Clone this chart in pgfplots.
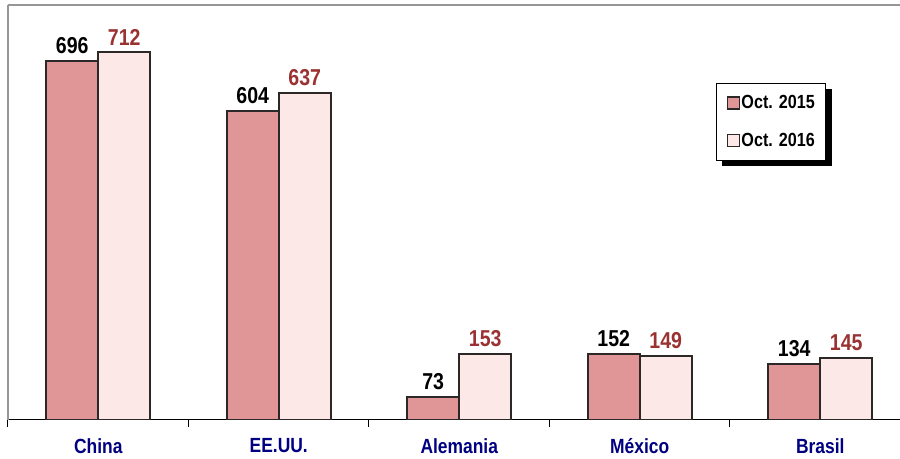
\documentclass[border=0pt]{standalone}
\usepackage{fontspec}
\setmainfont{Liberation Sans}
\newfontfamily\narrow[FakeStretch=0.85]{Liberation Sans}
\usepackage{pgfplots}
\pgfplotsset{compat=1.18}
\pgfdeclarelayer{background}
\pgfsetlayers{background,main}
\definecolor{bar15}{RGB}{224,150,150}
\definecolor{bar16}{RGB}{253,232,232}
\definecolor{barline}{RGB}{45,40,40}
\definecolor{lab16}{RGB}{155,50,50}
\definecolor{navy}{RGB}{0,0,128}
\definecolor{framegray}{RGB}{150,150,150}
\begin{document}
\begin{tikzpicture}
\begin{axis}[
  scale only axis, width=892pt, height=415pt,
  xmin=-0.5, xmax=4.442, ymin=30, ymax=800,
  ybar=0pt, bar width=52pt,
  axis x line*=bottom, axis y line*=left,
  y axis line style={draw=framegray, line width=1.2pt, -},
  x axis line style={draw=black, line width=1pt, -},
  ytick=\empty,
  xtick={-0.5,0.5,1.5,2.5,3.5}, xticklabels={},
  xtick align=outside, major tick length=7pt,
  xtick style={draw=black, line width=1pt},
  extra x ticks={0,1,2,3,4},
  extra x tick labels={China,EE.UU.,Alemania,México,Brasil},
  extra x tick style={major tick length=0pt,
    tick label style={font=\narrow\bfseries\fontsize{20.5}{20.5}\selectfont, text=navy, yshift=-15pt}},
  /pgf/number format/assume math mode=true,
  nodes near coords,
  every node near coord/.append style={font=\narrow\bfseries\fontsize{23}{23}\selectfont, yshift=3pt},
  legend style={name=leg, at={(0.794,0.812)}, anchor=north west, draw=black, line width=0.8pt,
    fill=white, font=\narrow\bfseries\fontsize{19}{19}\selectfont,
    row sep=19pt, inner xsep=10pt, inner ysep=10pt,
    nodes={inner xsep=1pt}},
  legend image code/.code={\draw[#1, line width=1.8pt, draw=barline] (0pt,-6pt) rectangle (12pt,6pt);},
  legend cell align=left,
  after end axis/.code={\draw[framegray, line width=1.2pt] (rel axis cs:0,1) -- (rel axis cs:1,1);},
]
\addplot[fill=bar15, draw=barline, line width=2pt,
  every node near coord/.append style={text=black}]
  coordinates {(0,696) (1,604) (2,73) (3,152) (4,134)};
\addplot[fill=bar16, draw=barline, line width=2pt,
  every node near coord/.append style={text=lab16}]
  coordinates {(0,712) (1,637) (2,153) (3,149) (4,145)};
\legend{Oct. 2015,Oct. 2016}
\end{axis}
\begin{pgfonlayer}{background}
\fill[black] ([shift={(6pt,-6pt)}]leg.south west) rectangle ([shift={(6pt,-6pt)}]leg.north east);
\end{pgfonlayer}
\pgfresetboundingbox
\useasboundingbox ([shift={(-8pt,-39pt)}]current axis.south west) rectangle ([shift={(0pt,5pt)}]current axis.north east);
\end{tikzpicture}
\end{document}
